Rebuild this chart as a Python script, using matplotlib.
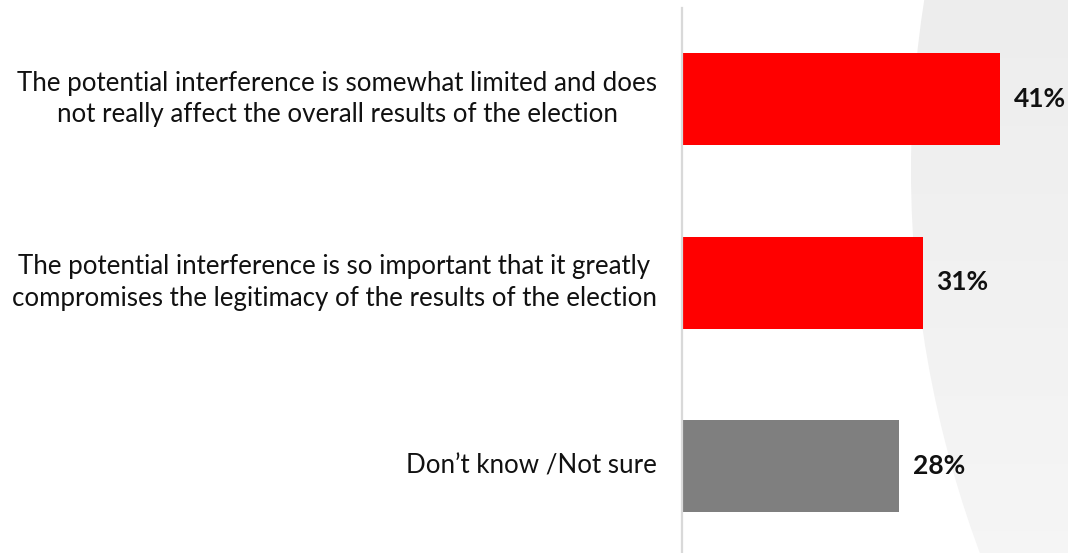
import matplotlib
matplotlib.use("Agg")
import matplotlib.pyplot as plt
import numpy as np
from matplotlib.patches import Circle

categories = [
    "The potential interference is somewhat limited and does\nnot really affect the overall results of the election",
    "The potential interference is so important that it greatly\ncompromises the legitimacy of the results of the election",
    "Don\u2019t know /Not sure",
]
values = [41, 31, 28]
value_labels = ["41%", "31%", "28%"]
colors = ["#ff0000", "#ff0000", "#7f7f7f"]

W, H = 1068, 553
fig = plt.figure(figsize=(W / 100, H / 100), dpi=100)
fig.patch.set_facecolor("white")

# background curved shape with soft vertical gradient
bg = fig.add_axes([0, 0, 1, 1])
bg.set_xlim(0, W)
bg.set_ylim(H, 0)
bg.axis("off")
circ = Circle((2011, 170), 1100, facecolor="none", edgecolor="none")
bg.add_patch(circ)
grad = np.linspace(0.93, 0.962, 256).reshape(-1, 1)
im = bg.imshow(np.dstack([grad, grad, grad]), extent=[880, W, H, 0], aspect="auto", zorder=0)
im.set_clip_path(circ)
bg.set_xlim(0, W)
bg.set_ylim(H, 0)

px_per = 7.76
x0 = 682
spacing = 183.5
c0 = 99
ax = fig.add_axes([x0 / W, 0, 1 - x0 / W, 1])
ax.patch.set_alpha(0)
ax.set_xlim(0, (W - x0) / px_per)
ax.set_ylim((H - c0) / spacing, -c0 / spacing)
pos = list(range(len(values)))
ax.barh(pos, values, height=92 / spacing, color=colors)
for p, v, lab in zip(pos, values, value_labels):
    ax.text(v + 14 / px_per, p, lab, ha="left", va="center", fontsize=19,
            fontweight="bold", family="Lato", color="#111111")
for s in ["top", "right", "bottom"]:
    ax.spines[s].set_visible(False)
ax.spines["left"].set_color("#d9d9d9")
ax.spines["left"].set_linewidth(1.6)
ax.spines["left"].set_bounds((8 - c0) / spacing, (H - c0) / spacing)
ax.set_xticks([])
ax.set_yticks([])

for p, cat in zip(pos, categories):
    yc = c0 + p * spacing
    fig.text(657 / W, 1 - yc / H, cat, ha="right", va="center", multialignment="center",
             fontsize=18.6, family="Lato", color="#111111", linespacing=1.32)

fig.savefig("out.png", dpi=100)
